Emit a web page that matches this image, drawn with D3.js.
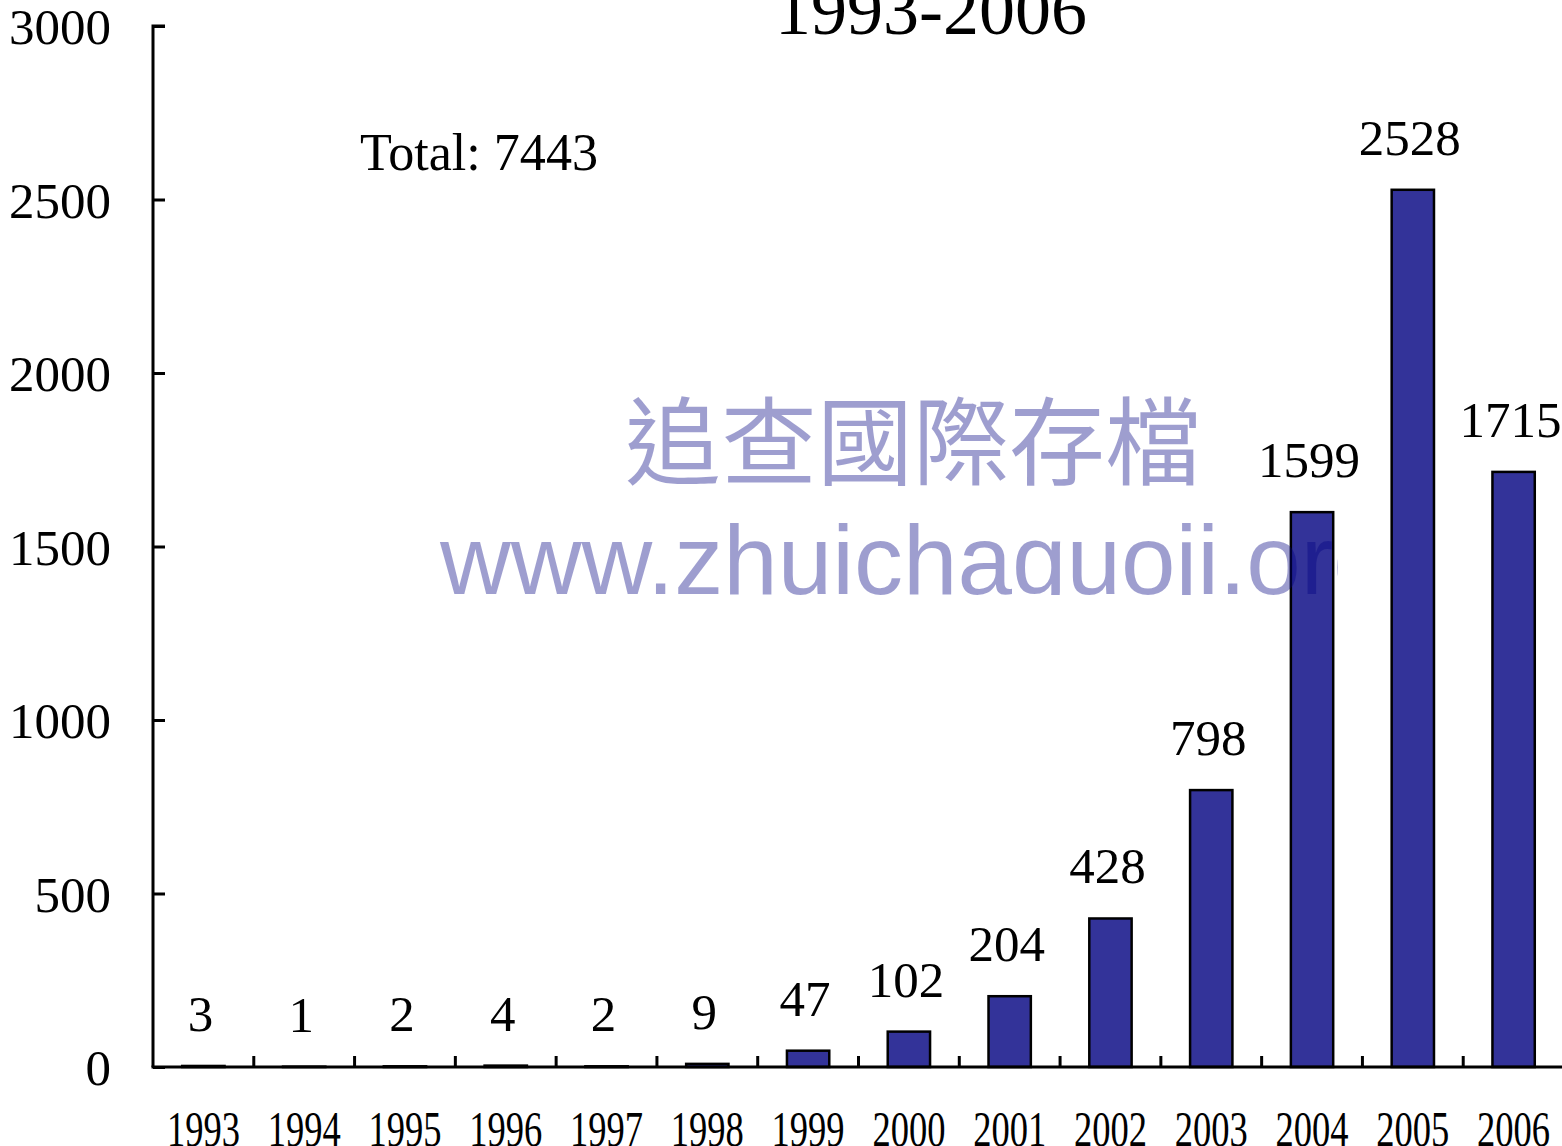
<!DOCTYPE html>
<html lang="zh-Hant">
<head>
<meta charset="UTF-8">
<title>1993-2006</title>
<script src="https://d3js.org/d3.v7.min.js"></script>
<style>
    html, body {
        margin:0;
        padding:0;
        background:#fff;
    }
    svg { display:block; }
    .serif { font-family: "Liberation Serif", "Times New Roman", serif; fill:#000; }
</style>
</head>
<body>
<div id="chart"></div>
<script>
    // données
    const years = ["1993","1994","1995","1996","1997","1998","1999","2000","2001","2002","2003","2004","2005","2006"];
    const counts = [3, 1, 2, 4, 2, 9, 47, 102, 204, 428, 798, 1599, 2528, 1715];
    const yTicks = [0, 500, 1000, 1500, 2000, 2500, 3000];
    const titleText = "1993-2006";
    const totalText = "Total: 7443";
    const wmCn = "追查國際存檔";
    const wmUrl = "www.zhuichaguoji.org";

    const W = 1562, H = 1146;
    const plotLeft = 153, plotRight = 1564, plotTop = 26, base = 1067;

    const svg = d3.select("#chart").append("svg")
        .attr("width", W)
        .attr("height", H);

    const x = d3.scaleBand()
        .domain(years)
        .range([plotLeft, plotRight])
        .paddingInner(0.58)
        .paddingOuter(0.29);

    const y = d3.scaleLinear()
        .domain([0, 3000])
        .range([base, plotTop]);

    const step = x.step();

    // titre (coupé en haut)
    svg.append("text")
        .attr("class", "serif")
        .attr("x", 931)
        .attr("y", 34)
        .attr("text-anchor", "middle")
        .style("font-size", "72px")
        .text(titleText);

    svg.append("text")
        .attr("class", "serif")
        .attr("x", 360)
        .attr("y", 170)
        .attr("textLength", 238)
        .attr("lengthAdjust", "spacingAndGlyphs")
        .style("font-size", "53px")
        .text(totalText);

    // barres
    svg.append("g").selectAll("rect")
        .data(counts)
        .join("rect")
        .attr("x", (d, i) => x(years[i]))
        .attr("y", d => y(d))
        .attr("width", x.bandwidth())
        .attr("height", d => base - y(d))
        .attr("fill", "#333399")
        .attr("stroke", "#000")
        .attr("stroke-width", 2.5);

    // étiquettes des valeurs
    svg.append("g").selectAll("text")
        .data(counts)
        .join("text")
        .attr("class", "serif")
        .attr("x", (d, i) => x(years[i]) + x.bandwidth() / 2 - 3)
        .attr("y", d => y(d) - 35)
        .attr("text-anchor", "middle")
        .style("font-size", "51px")
        .text(d => d);

    // axe Y
    const yAxis = svg.append("g")
        .attr("transform", `translate(${plotLeft},0)`)
        .call(d3.axisRight(y).tickValues(yTicks).tickSize(12).tickFormat(""));
    yAxis.selectAll("line, path").attr("stroke", "#000").attr("stroke-width", 3);
    yAxis.select(".domain").attr("d", `M12,${plotTop}H0V${base}`);

    svg.append("g").selectAll("text")
        .data(yTicks)
        .join("text")
        .attr("class", "serif")
        .attr("x", 111)
        .attr("y", d => y(d) + 18)
        .attr("text-anchor", "end")
        .style("font-size", "51px")
        .text(d => d);

    // axe X : graduations entre les catégories
    svg.append("line")
        .attr("x1", plotLeft - 1.5).attr("x2", W)
        .attr("y1", base).attr("y2", base)
        .attr("stroke", "#000").attr("stroke-width", 3);

    svg.append("g").selectAll("line")
        .data(years.slice(1))
        .join("line")
        .attr("x1", d => x(d) - step * 0.29)
        .attr("x2", d => x(d) - step * 0.29)
        .attr("y1", base)
        .attr("y2", base - 11)
        .attr("stroke", "#000")
        .attr("stroke-width", 3);

    svg.append("g").selectAll("text")
        .data(years)
        .join("text")
        .attr("class", "serif")
        .attr("x", d => x(d) + x.bandwidth() / 2)
        .attr("y", 1146)
        .attr("text-anchor", "middle")
        .attr("textLength", 73)
        .attr("lengthAdjust", "spacingAndGlyphs")
        .style("font-size", "50px")
        .text(d => d);

    // filigrane
    svg.append("defs").append("clipPath")
        .attr("id", "wmclip")
        .append("rect")
        .attr("x", 400).attr("y", 500)
        .attr("width", 938).attr("height", 95);

    svg.append("text")
        .attr("x", 625)
        .attr("y", 477)
        .attr("fill", "navy")
        .attr("fill-opacity", 0.38)
        .attr("textLength", 576)
        .attr("lengthAdjust", "spacingAndGlyphs")
        .style("font-family", "'Noto Sans CJK TC', sans-serif")
        .style("font-size", "96px")
        .text(wmCn);

    svg.append("text")
        .attr("clip-path", "url(#wmclip)")
        .attr("x", 440)
        .attr("y", 594)
        .attr("fill", "navy")
        .attr("fill-opacity", 0.38)
        .style("font-family", "'Liberation Sans', Arial, sans-serif")
        .style("font-size", "98px")
        .text(wmUrl);
</script>
</body>
</html>
